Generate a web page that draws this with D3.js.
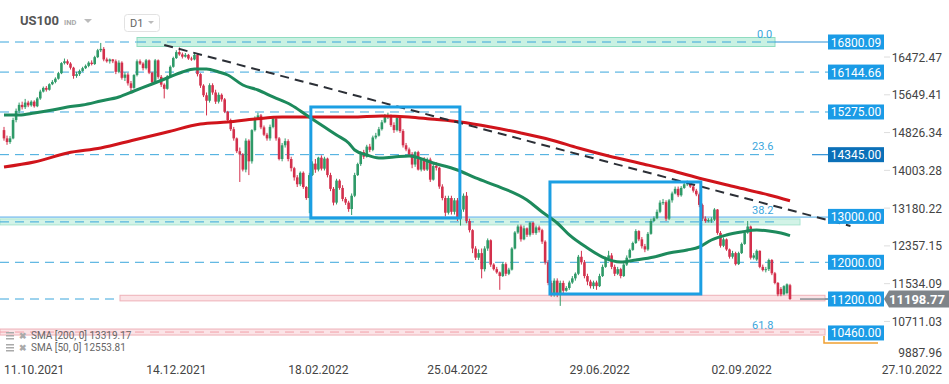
<!DOCTYPE html>
<html><head><meta charset="utf-8">
<script src="https://cdn.jsdelivr.net/npm/d3@7"></script>
<style>body{margin:0;background:#fff}svg{display:block;font-family:Roboto,"Noto Sans",sans-serif}</style>
</head><body><svg id="c" width="949" height="384"></svg>
<script>
// ---- DATA ----
// daily candles [open, high, low, close]
const candles = [
[14880,14950,14650,14700],[14700,14760,14560,14620],[14620,14750,14580,14700],[14700,15150,14680,15100],[15100,15350,15050,15300],
[15300,15480,15250,15430],[15430,15500,15330,15380],[15380,15560,15340,15480],[15480,15520,15380,15420],[15420,15530,15390,15500],
[15500,15530,15370,15400],[15400,15600,15380,15570],[15570,15760,15540,15720],[15720,15830,15700,15800],[15800,15840,15720,15760],
[15760,15900,15740,15880],[15880,15970,15860,15930],[15930,16030,15900,16000],[16000,16150,15980,16120],[16120,16360,16100,16340],
[16340,16440,16310,16380],[16380,16420,16300,16330],[16330,16360,16200,16240],[16240,16260,16000,16060],[16060,16150,16020,16100],
[16100,16200,16060,16170],[16170,16260,16150,16230],[16230,16310,16210,16280],[16280,16380,16250,16350],[16350,16400,16290,16320],
[16320,16500,16300,16470],[16470,16650,16450,16620],[16620,16780,16580,16650],[16650,16690,16380,16420],[16420,16460,16350,16380],
[16380,16440,16330,16420],[16420,16430,16340,16380],[16380,16420,16100,16150],[16150,16400,16120,16350],[16350,16380,15980,16020],
[16020,16140,15950,16090],[16090,16130,15850,15900],[15900,15950,15700,15800],[15800,16100,15780,16080],[16080,16420,16050,16380],
[16380,16420,16300,16330],[16330,16360,16180,16230],[16230,16430,16200,16400],[16400,16420,16100,16130],[16130,16150,15880,15920],
[15920,16430,15900,16400],[16400,16420,16000,16040],[16040,16080,15820,15870],[15870,15900,15570,15780],[15780,16080,15760,16050],
[16050,16290,16030,16260],[16260,16480,16240,16450],[16450,16620,16430,16580],[16580,16680,16500,16530],[16530,16570,16440,16480],
[16480,16560,16460,16520],[16520,16540,16410,16440],[16440,16480,16390,16420],[16420,16550,16400,16520],[16520,16540,16050,16100],
[16100,16120,15800,15850],[15850,15880,15600,15640],[15640,15700,15200,15520],[15520,15900,15480,15860],[15860,15900,15650,15700],
[15700,15760,15450,15500],[15500,15700,15460,15650],[15650,15680,15500,15550],[15550,15580,15250,15280],[15280,15300,15050,15100],
[15100,15130,14860,14900],[14900,14950,14650,14700],[14700,14720,14380,14420],[14420,14500,13750,14350],[14350,14380,13980,14020],
[14020,14700,13960,14650],[14650,14680,13900,14200],[14200,14900,14150,14880],[14880,15180,14850,15140],[15140,15260,15100,15200],
[15200,15230,14900,14940],[14940,14980,14750,14780],[14780,14820,14650,14700],[14700,15000,14650,14950],[14950,15160,14920,15130],
[15130,15150,14650,14700],[14700,14730,14220,14250],[14250,14600,14200,14550],[14550,14700,14500,14640],[14640,14680,14200,14250],
[14250,14300,13980,14050],[14050,14080,13780,13850],[13850,13900,13640,13700],[13700,13980,13660,13950],[13950,13980,13600,13640],
[13640,13660,13360,13400],[13400,13950,13070,13900],[13900,14200,13880,14150],[14150,14250,13950,14020],[14020,14300,13980,14280],
[14280,14330,14000,14040],[14040,14300,14000,14260],[14260,14280,13850,13900],[13900,13950,13550,13600],[13600,13640,13240,13300],
[13300,13820,13260,13780],[13780,13810,13580,13620],[13620,13680,13330,13380],[13380,13420,13250,13300],[13300,13340,13100,13160],
[13160,13500,13030,13450],[13450,13950,13420,13900],[13900,14170,13880,14140],[14140,14420,14100,14400],[14400,14450,14250,14300],
[14300,14560,14280,14520],[14520,14580,14400,14450],[14450,14760,14420,14720],[14720,14820,14680,14760],[14760,14950,14740,14900],
[14900,15100,14870,15050],[15050,15230,15030,15180],[15180,15260,15120,15200],[15200,15220,14950,14990],[14990,15050,14820,14880],
[14880,15200,14850,15150],[15150,15180,14820,14860],[14860,14900,14500,14550],[14550,14600,14420,14460],[14460,14500,14300,14350],
[14350,14400,14050,14130],[14130,14420,14080,14400],[14400,14430,14000,14020],[14020,14270,13980,14240],[14240,14290,13990,14020],
[14020,14280,13990,14240],[14240,14280,13750,13800],[13800,14150,13780,14100],[14100,14180,14000,14060],[14060,14080,13600,13650],
[13650,13700,13350,13400],[13400,13450,13000,13080],[13080,13450,13040,13400],[13400,13450,13040,13100],[13100,13400,13040,13350],
[13350,13400,12900,12950],[12950,13200,12800,13150],[13150,13500,13100,13450],[13450,13530,12850,12900],[12900,12950,12650,12700],
[12700,12720,12200,12300],[12300,12350,12050,12100],[12100,12280,12050,12200],[12200,12300,11650,11850],[11850,12350,11800,12300],
[12300,12520,12250,12480],[12480,12500,11900,11950],[11950,11980,11820,11850],[11850,11900,11750,11780],[11780,11800,11400,11700],
[11700,12000,11680,11960],[11960,12000,11700,11750],[11750,11880,11720,11840],[11840,12330,11820,12300],[12300,12680,12280,12650],
[12650,12820,12620,12780],[12780,12820,12450,12500],[12500,12800,12480,12740],[12740,12760,12550,12600],[12600,12880,12560,12860],
[12860,12880,12600,12640],[12640,12800,12600,12760],[12760,12800,12650,12700],[12700,12730,12400,12450],[12450,12480,11950,12000],
[12000,12050,11500,11550],[11550,11600,11250,11300],[11300,11650,11250,11600],[11600,11650,11240,11290],[11290,11600,11050,11550],
[11550,11600,11330,11380],[11380,11480,11360,11440],[11440,11600,11400,11560],[11560,11700,11530,11650],[11650,11780,11600,11750],
[11750,12160,11720,12120],[12120,12250,11950,12000],[12000,12050,11650,11700],[11700,11750,11500,11580],[11580,11620,11430,11480],
[11480,11600,11420,11560],[11560,11600,11400,11480],[11480,11750,11460,11700],[11700,11950,11680,11900],[11900,12120,11880,12080],
[12080,12250,12050,12150],[12150,12200,11850,11900],[11900,11950,11700,11750],[11750,11900,11720,11850],[11850,11880,11650,11700],
[11700,11980,11680,11950],[11950,12150,11920,12100],[12100,12300,12080,12270],[12270,12450,12250,12420],[12420,12720,12400,12680],
[12680,12700,12460,12500],[12500,12550,12300,12350],[12350,12400,12220,12280],[12280,12660,12250,12620],[12620,12950,12600,12900],
[12900,13000,12880,12960],[12960,13150,12940,13100],[13100,13350,13070,13300],[13300,13380,13250,13310],[13310,13350,12900,12950],
[12950,13380,12920,13350],[13350,13540,13300,13500],[13500,13650,13480,13600],[13600,13650,13420,13460],
[13460,13660,13430,13620],[13620,13740,13600,13700],[13700,13780,13660,13720],[13720,13760,13620,13650],[13650,13700,13520,13560],
[13560,13600,13440,13480],[13480,13520,13200,13250],[13250,13280,12900,12950],[12950,13000,12860,12900],[12900,12960,12870,12920],
[12920,12980,12860,12930],[12930,13180,12900,13150],[13150,13160,12600,12640],[12640,12680,12320,12360],[12360,12540,12330,12500],
[12500,12520,12250,12280],[12280,12300,12080,12120],[12120,12250,12080,12200],[12200,12230,11930,11960],[11960,12230,11940,12200],
[12200,12430,12180,12400],[12400,12680,12380,12650],[12650,12900,12620,12780],[12780,12800,12060,12100],[12100,12200,12060,12150],
[12060,12280,12030,12250],[12250,12260,11870,11900],[11900,11950,11800,11830],[11830,11900,11780,11850],[11850,12080,11810,12050],
[12050,12070,11720,11760],[11760,11790,11520,11550],[11550,11570,11260,11300],[11420,11460,11260,11300],[11300,11500,11280,11480],
[11330,11540,11300,11520],[11500,11530,11180,11200]
];
// moving averages: [candle index, value]
const sma50Idx = [0,5,10,16,21,26,32,38,43,49,54,59,63,67,71,74,79,84,89,95,100,106,110,114,116,120,124,129,134,142,150,156,164,173,178,183,187,193,198,204,209,215,220,226,230,234,239,244,249,253,257,260];
const sma50 = [15209,15209,15253,15318,15384,15427,15514,15602,15732,15885,16016,16146,16212,16212,16146,16081,15863,15754,15602,15427,15209,14948,14773,14599,14447,14338,14272,14294,14316,14163,14011,13837,13640,13357,13096,12856,12595,12311,12115,12006,12050,12115,12202,12268,12333,12486,12595,12660,12704,12682,12638,12580];
const sma200Idx = [0,10,21,32,43,54,65,74,83,92,101,115,125,134,141,151,161,171,181,190,200,210,220,231,242,253,260];
const sma200 = [14076,14185,14381,14490,14665,14839,15013,15057,15122,15166,15166,15166,15188,15166,15122,15057,14948,14817,14665,14490,14316,14163,14011,13815,13640,13466,13340];
const priceTicks = [16472.47,15649.41,14826.34,14003.28,13180.22,12357.15,11534.09,10711.03];
const bottomTick = "9887.96";
const dateTickIdx = [10,57,104,150,197,244];
const dateTickLabels = ["11.10.2021","14.12.2021","18.02.2022","25.04.2022","29.06.2022","02.09.2022"];
const lastDateLabel = "27.10.2022";
const levels = [16800.09,16144.66,15275.00,14345.00,13000.00,12000.00,11200.00,10460.00];
const fibNames = ["0.0","23.6","38.2","61.8"];
const fibValues = [16800.09,14345.00,12985.00,10460.00];
const lastPrice = 11198.77;
const trendIdx = [53,280];
const trendVal = [16735,12790];
const boxIdx = [[101.5,150.8],[180.6,230.5]];
const boxVal = [[15384,12965],[13750,11309]];
const legendLines = ["SMA [200,  0]  13319.17","SMA [50,  0]  12553.81"];

// ---- CHART ----
const svg = d3.select("#c");
const x = d3.scaleLinear().domain([0, candles.length-1]).range([4, 790]);
const y = d3.scaleLinear().domain([11200, 16800.09]).range([299, 42]);
const LBL_X = 828;
const dashBlue = "#3aa6dc";

// header
svg.append("text").attr("x",20).attr("y",25).attr("font-size",13).attr("font-weight","bold").attr("fill","#555").text("US100");
svg.append("text").attr("x",64).attr("y",25).attr("font-size",7.5).attr("font-weight","bold").attr("fill","#aaa").text("IND");
svg.append("path").attr("d","M84,19 L92,19 L88,23 Z").attr("fill","#bbb");
svg.append("rect").attr("x",124.5).attr("y",14.5).attr("width",35).attr("height",17).attr("rx",3).attr("fill","#fff").attr("stroke","#e2e2e2");
svg.append("text").attr("x",130).attr("y",27).attr("font-size",11).attr("fill","#666").text("D1");
svg.append("path").attr("d","M148,21 L154,21 L151,24 Z").attr("fill","#bbb");

const g = svg.append("g");
function hline(v, x0, x1, color, dash, w){
  g.append("line").attr("x1",x0).attr("x2",x1).attr("y1",y(v)).attr("y2",y(v))
   .attr("stroke",color).attr("stroke-width",w||1).attr("stroke-dasharray",dash||null);
}
function band(v, x0, x1, fill, stroke, half){
  g.append("rect").attr("x",x0).attr("width",x1-x0).attr("y",y(v)-half).attr("height",2*half)
   .attr("fill",fill).attr("stroke",stroke).attr("stroke-width",1);
}
// 16800 level
hline(levels[0],0,137,dashBlue,"9,6");
band(levels[0],137,775,"#c9f1e2","#8fdcc0",4.5);
hline(levels[0],137,775,dashBlue,"9,6");
hline(levels[0],775,LBL_X,"#2b8fd6",null,1.2);
// 16144, 15275, 12000
hline(levels[1],0,LBL_X,dashBlue,"9,6");
hline(levels[2],0,LBL_X,dashBlue,"9,6");
hline(levels[5],0,LBL_X,dashBlue,"9,6");
// 14345
hline(levels[3],0,780,dashBlue,"9,6");
hline(levels[3],812,LBL_X,"#2b8fd6",null,1.2);
// 13000 band + fib 38.2 solid line
band(levels[4]-120,0,800,"#d2f3e7","#a8e4cf",3);
hline(levels[4]-120,0,780,dashBlue,"9,6");
hline(fibValues[2],0,LBL_X,"#4aa8e6",null,1);
// 11200
hline(levels[6],0,120,dashBlue,"9,6");
band(levels[6]+20,120,825,"#fbe3e6","#eeb0b8",2.8);
hline(levels[6],825,LBL_X,"#2b8fd6",null,1);
// 10460
band(levels[7]+20,0,825,"#fbe3e6","#eeb0b8",3);
hline(levels[7]+20,0,825,"#f2a0aa","9,6");
g.append("path").attr("d",`M824,${y(levels[7])+3} V${y(levels[7])+10} H878`).attr("fill","none").attr("stroke","#f0a030").attr("stroke-width",1.5);

// fib labels
fibNames.forEach((n,i)=>{
  g.append("text").attr("x",[757,752,752,752][i]).attr("y",y(fibValues[i])-[4,5,3,4][i]).attr("font-size",11)
   .attr("fill","#3aa6dc").text(n);
});

// candles
const cg = svg.append("g");
candles.forEach((d,i)=>{
  const [o,h,l,c] = d;
  const up = c>=o;
  const col = up ? "#2f9a68" : "#d3304c";
  const cx = x(i);
  cg.append("line").attr("x1",cx).attr("x2",cx).attr("y1",y(h)).attr("y2",y(l)).attr("stroke",col).attr("stroke-width",1);
  const top = y(Math.max(o,c)), bot = y(Math.min(o,c));
  cg.append("rect").attr("x",cx-1.3).attr("width",2.6).attr("y",top).attr("height",Math.max(1,bot-top)).attr("fill",col);
});

// SMAs
const line = d3.line().curve(d3.curveMonotoneX);
svg.append("path").attr("d",line(sma200Idx.map((k,i)=>[x(k),y(sma200[i])]))).attr("fill","none").attr("stroke","#d0141b").attr("stroke-width",3);
svg.append("path").attr("d",line(sma50Idx.map((k,i)=>[x(k),y(sma50[i])]))).attr("fill","none").attr("stroke","#1d8a5c").attr("stroke-width",3);

// trendline
svg.append("line").attr("x1",x(trendIdx[0])).attr("y1",y(trendVal[0])).attr("x2",x(trendIdx[1])).attr("y2",y(trendVal[1]))
  .attr("stroke","#2b2f36").attr("stroke-width",2).attr("stroke-dasharray","9,6");

// boxes
boxIdx.forEach((b,i)=>{
  svg.append("rect").attr("x",x(b[0])).attr("y",y(boxVal[i][0])).attr("width",x(b[1])-x(b[0])).attr("height",y(boxVal[i][1])-y(boxVal[i][0]))
   .attr("fill","none").attr("stroke","#1b9fe3").attr("stroke-width",3);
});

// level labels
levels.forEach(v=>{
  const yy = y(v);
  svg.append("rect").attr("x",LBL_X).attr("y",yy-7.5).attr("width",56).attr("height",15)
    .attr("fill", v===14345 ? "#0b70b8" : "#1a9be6");
  svg.append("text").attr("x",LBL_X+28).attr("y",yy+4.5).attr("text-anchor","middle").attr("font-size",12).attr("fill","#fff").text(v.toFixed(2));
});

// current price
const py = y(lastPrice);
svg.append("line").attr("x1",800).attr("x2",LBL_X).attr("y1",py).attr("y2",py).attr("stroke","#8a8f94").attr("stroke-width",1.5);
svg.append("path").attr("d",`M884,${py} L889,${py-8.5} H949 V${py+8.5} H889 Z`).attr("fill","#7f8489");
svg.append("text").attr("x",917).attr("y",py+5).attr("text-anchor","middle").attr("font-size",13).attr("font-weight","bold").attr("fill","#fff").text(lastPrice.toFixed(2));

// price axis
priceTicks.forEach(v=>{
  svg.append("line").attr("x1",884).attr("x2",890).attr("y1",y(v)).attr("y2",y(v)).attr("stroke","#ddd");
  svg.append("text").attr("x",942).attr("y",y(v)+4.5).attr("text-anchor","end").attr("font-size",12).attr("fill","#444").text(v.toFixed(2));
});
svg.append("text").attr("x",942).attr("y",357).attr("text-anchor","end").attr("font-size",12).attr("fill","#444").text(bottomTick);

// date axis
dateTickIdx.forEach((k,i)=>{
  svg.append("text").attr("x",x(k)).attr("y",374).attr("text-anchor","middle").attr("font-size",12).attr("fill","#444").text(dateTickLabels[i]);
});
svg.append("text").attr("x",942).attr("y",374).attr("text-anchor","end").attr("font-size",12).attr("fill","#444").text(lastDateLabel);

// legend
legendLines.forEach((t,i)=>{
  const ly = 339 + i*12;
  [7,4,1].forEach(dy=>svg.append("rect").attr("x",6).attr("y",ly-dy).attr("width",8).attr("height",1.5).attr("fill","#aaa"));
  svg.append("text").attr("x",19).attr("y",ly).attr("font-size",9).attr("font-weight","bold").attr("fill","#aaa").text("✖");
  svg.append("text").attr("x",31).attr("y",ly).attr("font-size",10).attr("fill","#666").text(t);
});
</script></body></html>
